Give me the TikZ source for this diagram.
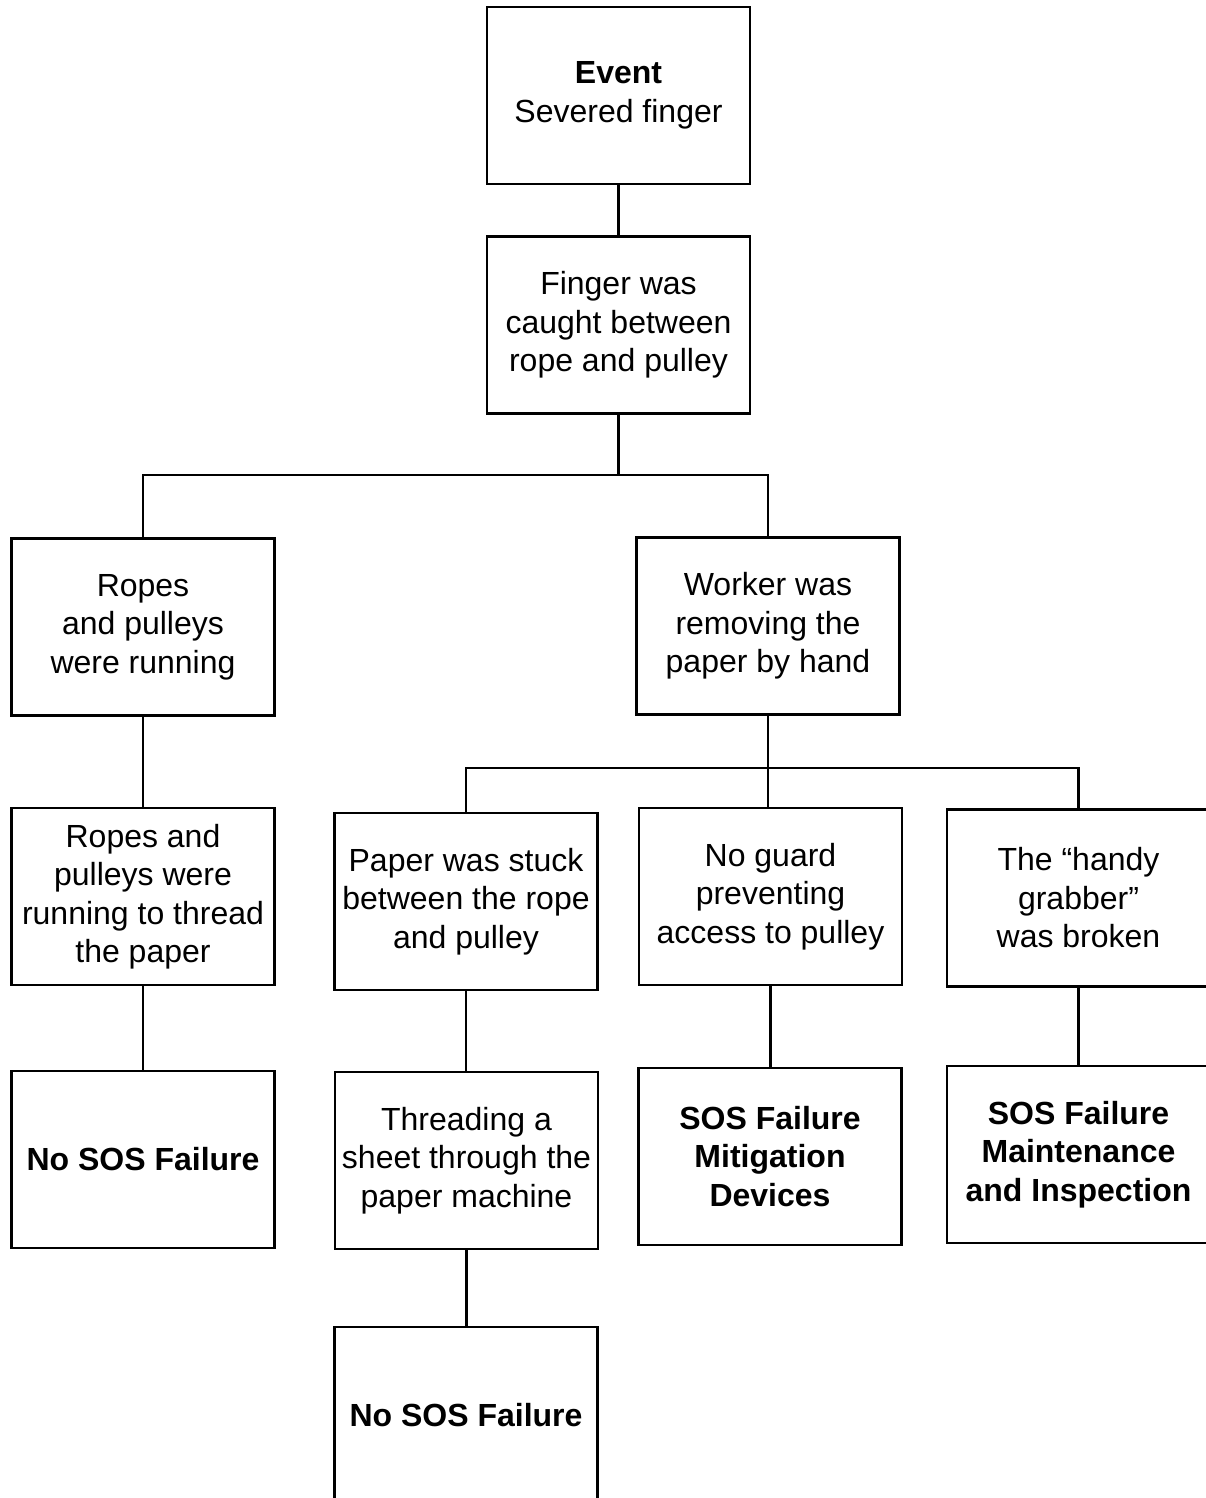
\documentclass[tikz,border=0pt]{standalone}
\usepackage{fontspec}
\setmainfont{Liberation Sans}
\begin{document}
\begin{tikzpicture}[x=1pt,y=-1pt,
  box/.style={draw, line width=2.6pt, minimum width=263pt, minimum height=177pt,
    inner sep=0pt, align=center, font=\fontsize{32}{38.5}\selectfont},
  conn/.style={line width=2.4pt}]
\useasboundingbox (0,0) rectangle (1206,1498);
\clip (0,0) rectangle (1206,1498);
\fill[white] (0,0) rectangle (1206,1498);
\node[box] (ev) at (618.5,95.5) {\textbf{Event}\\Severed finger};
\node[box] (fg) at (618.5,325) {Finger was\\caught between\\rope and pulley};
\node[box] (rp) at (143,627) {Ropes\\and pulleys\\were running};
\node[box] (wk) at (768,626) {Worker was\\removing the\\paper by hand};
\node[box] (rt) at (143,896.5) {Ropes and\\pulleys were\\running to thread\\the paper};
\node[box] (ns1) at (143,1159.5) {\textbf{No SOS Failure}};
\node[box] (ps) at (466,901.5) {Paper was stuck\\between the rope\\and pulley};
\node[box] (ng) at (770.5,896.5) {No guard\\preventing\\access to pulley};
\node[box] (hg) at (1078.5,898) {The “handy\\grabber”\\was broken};
\node[box] (th) at (466.5,1160.5) {Threading a\\sheet through the\\paper machine};
\node[box] (sm) at (770,1156.5) {\textbf{SOS Failure}\\\textbf{Mitigation}\\\textbf{Devices}};
\node[box] (smi) at (1078.5,1154.5) {\textbf{SOS Failure}\\\textbf{Maintenance}\\\textbf{and Inspection}};
\node[box] (ns2) at (466,1415.5) {\textbf{No SOS Failure}};
\coordinate (j1) at (618.5,475);
\coordinate (j2) at (768,768);
\draw[conn] (ev.south) -- (fg.north);
\draw[conn] (fg.south) -- (j1);
\draw[conn] (rp.north) |- (j1) -| (wk.north);
\draw[conn] (rp.south) -- (rt.north);
\draw[conn] (rt.south) -- (ns1.north);
\draw[conn] (wk.south) -- (j2);
\draw[conn] (ps.north) |- (j2) -| (hg.north);
\draw[conn] (j2) -- (ng.north -| j2);
\draw[conn] (ps.south) -- (th.north -| ps.south);
\draw[conn] (ng.south) -- (sm.north -| ng.south);
\draw[conn] (hg.south) -- (smi.north);
\draw[conn] (th.south) -- (ns2.north -| th.south);
\end{tikzpicture}
\end{document}
